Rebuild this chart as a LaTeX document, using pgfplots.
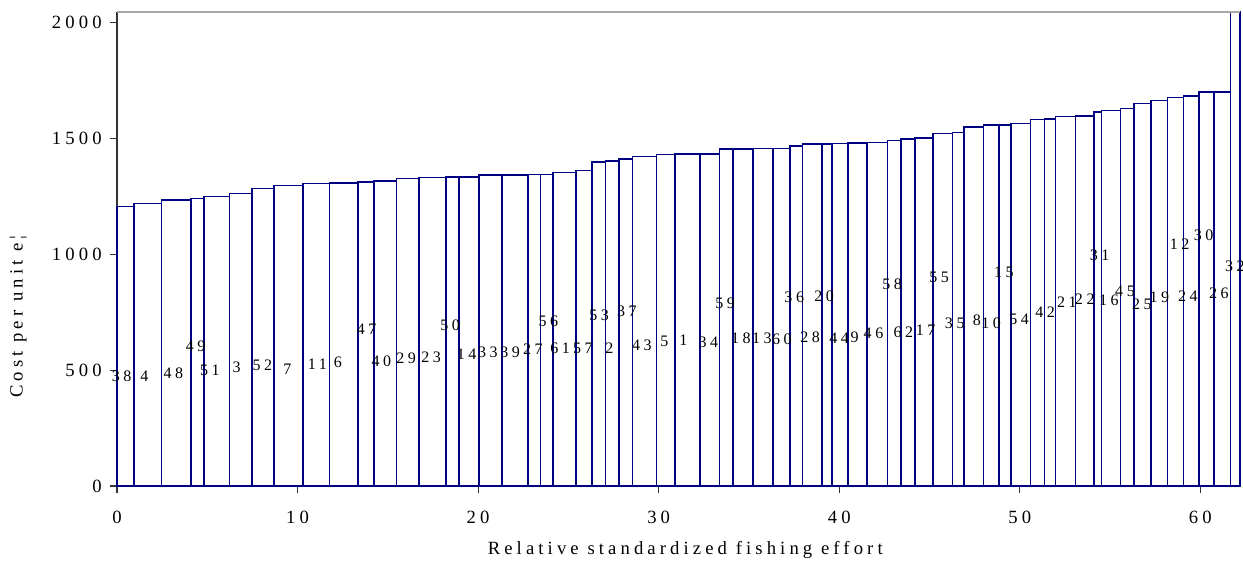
\documentclass[border=0pt]{standalone}
\usepackage{fontspec}
\setmainfont{Liberation Serif}[LetterSpace=22]
\usepackage{pgfplots}
\pgfplotsset{compat=1.18}
\definecolor{barblue}{RGB}{0,0,128}

% left edge of each bar and its cost per unit; last row closes the final bar
\pgfplotstableread{
x      y
0.00   1206
0.94   1218
2.47   1234
4.09   1239
4.81   1249
6.22   1262
7.48   1283
8.70   1296
10.30  1305
11.76  1306
13.36  1312
14.24  1316
15.47  1326
16.73  1330
18.23  1332
18.95  1333
20.06  1342
21.33  1342
22.78  1343
23.45  1344
24.14  1352
25.43  1360
26.31  1396
27.05  1401
27.81  1411
28.55  1421
29.88  1429
30.90  1431
32.30  1432
33.37  1454
34.13  1454
35.22  1455
36.33  1456
37.27  1465
37.97  1474
39.06  1475
39.60  1477
40.48  1478
41.55  1481
42.68  1490
43.42  1497
44.19  1500
45.21  1520
46.27  1524
46.92  1548
47.99  1556
48.86  1557
49.53  1563
50.60  1581
51.38  1583
51.99  1594
53.09  1595
54.12  1614
54.53  1619
55.57  1627
56.33  1649
57.26  1662
58.19  1675
59.07  1683
59.93  1699
60.77  1700
61.68  2044
62.20  2044
}\bars

% vessel numbers written over the bars
\pgfplotstableread{
x      y     lab
0.26   473   38
1.51   474   4
3.12   487   48
4.36   602   49
5.15   499   51
6.63   511   3
8.05   520   52
9.44   502   7
11.10  525   11
12.23  532   6
13.83  678   47
14.64  538   40
16.01  549   29
17.40  554   23
18.45  692   50
19.36  568   14
20.54  578   33
21.77  578   39
23.03  588   27
23.89  710   56
24.54  595   61
25.80  595   57
26.70  738   53
27.27  595   2
28.24  753   37
29.07  606   43
30.32  624   5
31.37  628   1
32.76  618   34
33.68  787   59
34.55  635   18
35.72  635   13
36.83  631   60
37.51  813   36
38.39  642   28
39.17  817   20
40.00  638   44
40.85  642   9
41.90  659   46
42.93  869   58
43.55  661   62
44.79  671   17
45.53  898   55
46.40  700   35
47.63  714   8
48.42  700   10
49.12  922   15
49.96  717   54
51.40  750   42
52.61  793   21
53.60  807   22
54.42  994   31
54.94  803   16
55.83  839   45
56.77  783   25
57.73  814   19
58.85  1044  12
59.31  817   24
60.19  1080  30
61.03  833   26
61.92  946   32
}\labels

\begin{document}
\begin{tikzpicture}
\begin{axis}[
  width=842.25pt, height=355.5pt, scale only axis,
  xmin=0, xmax=62.2, ymin=0, ymax=2044,
  xtick={0,10,...,60}, ytick={0,500,...,2000},
  axis x line*=bottom, axis y line*=left,
  axis line style={-, black!80, line width=0.8pt},
  tick align=outside, major tick length=5pt,
  tick style={black!80, line width=0.8pt},
  /pgf/number format/assume math mode=true,
  /pgf/number format/1000 sep={},
  tick label style={font=\fontsize{14}{16}\selectfont},
  xticklabel style={yshift=-10pt},
  yticklabel style={xshift=-3pt},
  xlabel={Relative standardized fishing effort},
  ylabel={Cost per unit e¦},
  every axis x label/.style={at={(rel axis cs:0.506,-0.134)}, anchor=center,
    font=\fontsize{14}{16}\selectfont},
  every axis y label/.style={at={(rel axis cs:-0.0879,0.357)}, anchor=center,
    rotate=90, font=\fontsize{14}{16}\selectfont},
  clip=false,
]
\addplot[ybar interval, fill=white, draw=barblue, line width=1.2pt] table[x=x, y=y] {\bars};
\addplot[only marks, mark=none, nodes near coords, point meta=explicit symbolic,
  nodes near coords style={anchor=center, inner sep=0pt, font=\fontsize{12}{14}\selectfont}]
  table[x=x, y=y, meta=lab] {\labels};
\draw[gray!70, line width=0.8pt] (rel axis cs:0,1) -- (rel axis cs:1,1);
\end{axis}
\pgfresetboundingbox
\path ([shift={(-87.75pt,-55.5pt)}]current axis.south west)
  rectangle ([shift={(2.25pt,9pt)}]current axis.north east);
\end{tikzpicture}
\end{document}
